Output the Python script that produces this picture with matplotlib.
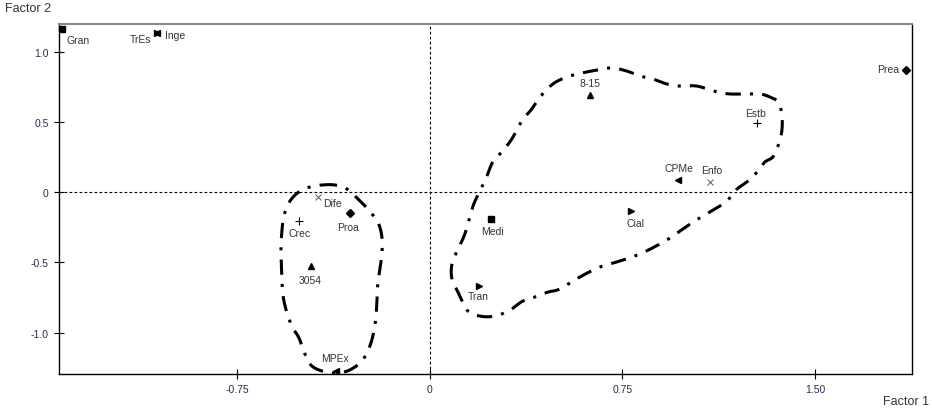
import numpy as np
import matplotlib
matplotlib.use("Agg")
import matplotlib.pyplot as plt

plt.rcParams['font.family'] = ['Liberation Sans', 'DejaVu Sans']

# category codes, factor scores and marker used by the program
codes = ["Gran", "TrEs", "Inge", "Prea", "8-15", "Estb", "CPMe", "Enfo", "Cial",
         "Medi", "Tran", "Dife", "Proa", "Crec", "3054", "MPEx"]
factor1 = [-1.434, -1.063, -1.063, 1.854, 0.623, 1.274, 0.966, 1.091, 0.783,
           0.238, 0.191, -0.436, -0.312, -0.510, -0.464, -0.366]
factor2 = [1.160, 1.132, 1.132, 0.868, 0.690, 0.491, 0.085, 0.071, -0.135,
           -0.192, -0.669, -0.036, -0.149, -0.206, -0.527, -1.274]
symbols = ["s", ">", "<", "D", "^", "+", "<", "x", ">",
           "s", ">", "x", "D", "+", "^", "<"]

# hand drawn outlines of the two groups (factor units)
left_f1 = [-0.421, -0.370, -0.323, -0.280, -0.242, -0.203, -0.187, -0.187, -0.195, -0.203,
           -0.206, -0.210, -0.218, -0.234, -0.265, -0.312, -0.358, -0.409, -0.460, -0.487,
           -0.510, -0.538, -0.561, -0.573, -0.577, -0.580, -0.580, -0.577, -0.569, -0.545,
           -0.506, -0.467]
left_f2 = [0.050, 0.050, 0.021, -0.050, -0.121, -0.214, -0.320, -0.441, -0.548, -0.655,
           -0.762, -0.883, -0.989, -1.096, -1.203, -1.266, -1.288, -1.280, -1.238, -1.153,
           -1.039, -0.954, -0.833, -0.726, -0.605, -0.477, -0.391, -0.285, -0.171, -0.064,
           0.007, 0.036]
right_f1 = [0.086, 0.086, 0.109, 0.136, 0.168, 0.195, 0.222, 0.245, 0.280, 0.319,
            0.358, 0.397, 0.429, 0.479, 0.534, 0.592, 0.651, 0.709, 0.767, 0.818,
            0.869, 0.923, 0.974, 1.040, 1.118, 1.169, 1.235, 1.286, 1.325, 1.356,
            1.371, 1.371, 1.356, 1.336, 1.305, 1.278, 1.239, 1.196, 1.157, 1.110,
            1.063, 1.025, 0.947, 0.896, 0.818, 0.740, 0.662, 0.584, 0.506, 0.460,
            0.421, 0.362, 0.312, 0.253, 0.195, 0.148, 0.113]
right_f2 = [-0.619, -0.512, -0.406, -0.299, -0.100, 0.007, 0.114, 0.214, 0.285, 0.377,
            0.505, 0.591, 0.676, 0.769, 0.819, 0.847, 0.868, 0.883, 0.861, 0.826,
            0.804, 0.769, 0.754, 0.754, 0.712, 0.698, 0.698, 0.698, 0.676, 0.641,
            0.555, 0.434, 0.327, 0.249, 0.214, 0.149, 0.078, 0.021, -0.064, -0.121,
            -0.171, -0.214, -0.313, -0.370, -0.441, -0.491, -0.534, -0.605, -0.690, -0.712,
            -0.740, -0.776, -0.840, -0.883, -0.883, -0.847, -0.726]

xticks = [-0.75, 0, 0.75, 1.50]
xtick_labels = ["-0.75", "0", "0.75", "1.50"]
yticks = [1.0, 0.5, 0, -0.5, -1.0]
ytick_labels = ["1.0", "0.5", "0", "-0.5", "-1.0"]


def closed_spline(xs, ys, n=20):
    # closed Catmull-Rom curve through the outline points
    p = np.column_stack([xs, ys])
    out = []
    m = len(p)
    t = np.linspace(0, 1, n, endpoint=False)[:, None]
    for i in range(m):
        p0, p1, p2, p3 = p[i - 1], p[i], p[(i + 1) % m], p[(i + 2) % m]
        seg = 0.5 * ((2 * p1) + (-p0 + p2) * t + (2 * p0 - 5 * p1 + 4 * p2 - p3) * t ** 2
                     + (-p0 + 3 * p1 - 3 * p2 + p3) * t ** 3)
        out.append(seg)
    out.append(p[:1])
    out = np.vstack(out)
    return out[:, 0], out[:, 1]


# label placement, pixels from the marker
offsets = {"Gran": (5, -11, "left"), "TrEs": (-6, -6, "right"), "Inge": (8, -2, "left"),
           "Prea": (-7, 1, "right"), "8-15": (0, 12, "center"), "Estb": (-1, 10, "center"),
           "CPMe": (1, 12, "center"), "Enfo": (2, 12, "center"), "Cial": (5, -12, "center"),
           "Medi": (2, -12, "center"), "Tran": (-1, -10, "center"), "Dife": (5, -6, "left"),
           "Proa": (-2, -14, "center"), "Crec": (1, -12, "center"), "3054": (-1, -14, "center"),
           "MPEx": (-1, 13, "center")}

fig = plt.figure(figsize=(9.32, 4.10), dpi=100)
ax = fig.add_axes([0.0633, 0.0854, 0.9152, 0.8537])

ax.axhline(0, color="black", lw=0.8, ls=(0, (2.5, 2)))
ax.axvline(0, color="black", lw=0.8, ls=(0, (2.5, 2)))

for xs, ys in [(left_f1, left_f2), (right_f1, right_f2)]:
    cx, cy = closed_spline(xs, ys)
    ax.plot(cx, cy, color="black", lw=2.2, dashes=(5, 3, 1.0, 3),
            solid_capstyle="butt", dash_capstyle="butt", clip_on=True)

for code, fx, fy, sym in zip(codes, factor1, factor2, symbols):
    if sym == "x":
        ax.plot(fx, fy, marker="x", color="#555555", ms=4.5, mew=0.7, ls="none")
    elif sym == "+":
        ax.plot(fx, fy, marker="+", color="black", ms=6, mew=0.8, ls="none")
    else:
        size = 4 if sym == "D" else (4.5 if sym == "s" else 5)
        ax.plot(fx, fy, marker=sym, color="black", ms=size, ls="none", clip_on=False)
    dx, dy, ha = offsets[code]
    ax.annotate(code, (fx, fy), xytext=(dx, dy), textcoords="offset pixels",
                ha=ha, va="center", fontsize=7.5, color="#333333")

ax.set_xlim(-1.445, 1.878)
ax.set_ylim(-1.295, 1.196)
ax.set_xticks(xticks)
ax.set_xticklabels(xtick_labels)
ax.set_yticks(yticks)
ax.set_yticklabels(ytick_labels)
ax.tick_params(direction="inout", length=7, width=0.8, labelsize=7.5,
               labelcolor="#2a2a55", pad=4)

for side in ["left", "bottom", "right"]:
    ax.spines[side].set_color("black")
    ax.spines[side].set_linewidth(1.0)
ax.spines["top"].set_color("#888888")
ax.spines["top"].set_linewidth(1.5)

fig.text(5 / 932, 1 - 9 / 410, "Factor 2", fontsize=9, color="#333333", va="center", ha="left")
fig.text(929 / 932, 1 - 402 / 410, "Factor 1", fontsize=9, color="#333333", va="center", ha="right")

fig.savefig("out.png", dpi=100)
